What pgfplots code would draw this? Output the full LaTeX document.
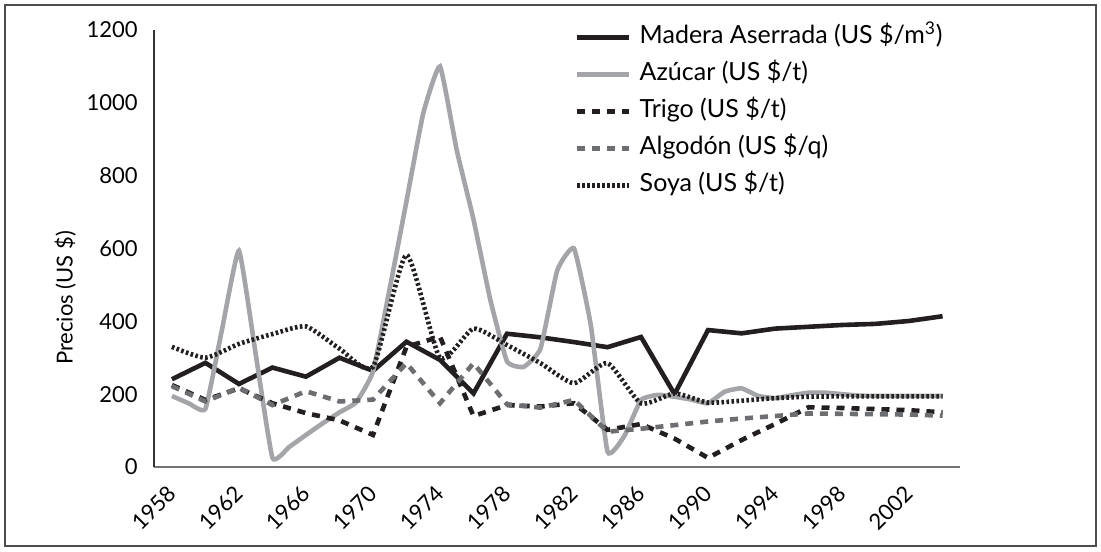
\documentclass[border=0pt]{standalone}
\usepackage{fontspec}
\setmainfont{Lato}
\usepackage{pgfplots}
\pgfplotsset{compat=1.18}
\definecolor{inkblack}{HTML}{231F20}
\definecolor{sugargray}{HTML}{A3A5A8}
\definecolor{cottongray}{HTML}{6D6E71}
\definecolor{framegray}{HTML}{4D4D4F}

\begin{document}
\begin{tikzpicture}
\useasboundingbox (0,0) rectangle (550.5pt,275.5pt);
\draw[framegray, line width=0.8pt] (2.5pt,2.5pt) rectangle (548pt,273pt);
\begin{axis}[
  at={(77pt,42pt)}, anchor=south west,
  scale only axis, width=403pt, height=218.5pt,
  xmin=1956.93, xmax=2005.04, ymin=0, ymax=1200,
  xtick={1958,1962,...,2002}, ytick={0,200,...,1200},
  axis x line=bottom, axis y line=left,
  x axis line style={-, line width=1.1pt, color=black!55},
  y axis line style={-, line width=0.6pt, color=black!80},
  major tick length=0pt,
  /pgf/number format/1000 sep={},
  /pgf/number format/assume math mode=true,
  tick label style={font=\fontsize{11}{13}\selectfont},
  yticklabel style={inner sep=0pt, xshift=-8pt},
  xticklabel style={rotate=45, anchor=east, inner sep=0pt, xshift=-8pt, yshift=-8pt},
  ylabel={Precios (US \$)},
  ylabel style={font=\fontsize{11}{13}\selectfont, at={(axis description cs:-0.11,0.387)}, anchor=center},
  legend cell align=left,
  legend style={draw=none, fill=none, inner sep=0pt,
    at={(0.522,1.007)}, anchor=north west,
    font=\fontsize{12.5}{14}\selectfont,
    row sep=8.5pt, column sep=4pt,
    nodes={inner sep=0pt, text height=8pt, text depth=2pt}},
  legend image code/.code={\draw[#1] (0pt,0pt) -- (26pt,0pt);},
]
% madera aserrada
\addplot[inkblack, line width=2.3pt] coordinates {
 (1958,241) (1960,286) (1962,228) (1964,273) (1966,248) (1968,300) (1970,264) (1972,344)
 (1974,294) (1976,202) (1978,366) (1980,356) (1982,343) (1984,329) (1986,357) (1988,200)
 (1990,376) (1992,367) (1994,380) (1996,385) (1998,390) (2000,393) (2002,401) (2004,414)};
\addlegendentry{Madera Aserrada (US \$/m\textsuperscript{3})}
% azucar
\addplot[sugargray, line width=2.3pt, smooth, tension=0.25] coordinates {
 (1958,195) (1959,175) (1960,160) (1961,380) (1962,594) (1963,310) (1964,25) (1965,55)
 (1966,88) (1967,120) (1968,150) (1969,178) (1970,262) (1971,490) (1972,730) (1973,971)
 (1974,1100) (1975,870) (1976,680) (1977,460) (1978,290) (1979,275) (1980,325) (1981,540)
 (1982,600) (1983,390) (1984,42) (1985,85) (1986,184) (1987,198) (1988,193) (1989,185)
 (1990,175) (1991,207) (1992,216) (1993,195) (1994,189) (1995,197) (1996,204) (1997,204)
 (1998,200) (1999,196) (2000,195) (2001,195) (2002,195) (2003,195) (2004,195)};
\addlegendentry{Azúcar (US \$/t)}
% trigo
\addplot[inkblack, line width=2.3pt, dash pattern=on 4pt off 3.5pt] coordinates {
 (1958,225) (1960,184) (1962,216) (1964,175) (1966,148) (1968,128) (1970,88) (1972,330)
 (1974,358) (1976,140) (1978,170) (1980,166) (1982,175) (1984,102) (1986,118) (1988,78)
 (1990,25) (1992,74) (1994,118) (1996,164) (1998,162) (2000,159) (2002,156) (2004,150)};
\addlegendentry{Trigo (US \$/t)}
% algodon
\addplot[cottongray, line width=2.3pt, dash pattern=on 4pt off 3.5pt] coordinates {
 (1958,222) (1960,180) (1962,218) (1964,170) (1966,208) (1968,180) (1970,185) (1972,285)
 (1974,175) (1976,285) (1978,172) (1980,163) (1982,184) (1984,97) (1986,105) (1988,115)
 (1990,125) (1992,133) (1994,140) (1996,147) (1998,146) (2000,145) (2002,144) (2004,141)};
\addlegendentry{Algodón (US \$/q)}
% soya
\addplot[inkblack, line width=2.3pt, dash pattern=on 1.3pt off 1.2pt, smooth, tension=0.35] coordinates {
 (1958,330) (1960,300) (1962,338) (1964,365) (1966,386) (1968,325) (1970,275) (1972,582)
 (1974,300) (1976,380) (1978,335) (1980,285) (1982,230) (1984,285) (1986,175) (1988,202)
 (1990,177) (1992,182) (1994,189) (1996,193) (1998,194) (2000,194) (2002,194) (2004,194)};
\addlegendentry{Soya (US \$/t)}
\end{axis}
\end{tikzpicture}
\end{document}
